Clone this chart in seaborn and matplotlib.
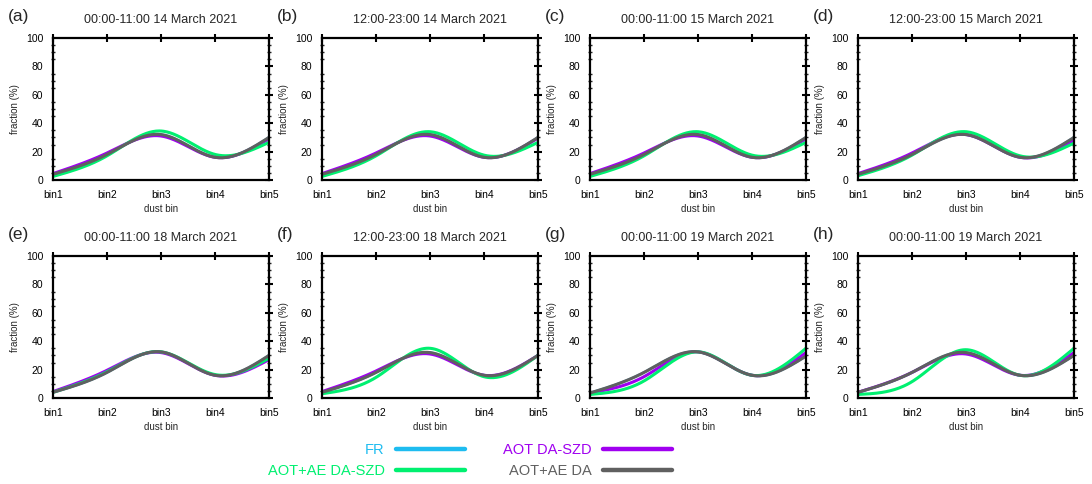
import numpy as np
import pandas as pd
import matplotlib
matplotlib.use("Agg")
import matplotlib.pyplot as plt
import seaborn as sns
from matplotlib.lines import Line2D
from matplotlib.ticker import MultipleLocator

# ---------------- data ----------------
bins = ["bin1", "bin2", "bin3", "bin4", "bin5"]
panel_tags = ["(a)", "(b)", "(c)", "(d)", "(e)", "(f)", "(g)", "(h)"]
titles = [
    "00:00-11:00 14 March 2021", "12:00-23:00 14 March 2021",
    "00:00-11:00 15 March 2021", "12:00-23:00 15 March 2021",
    "00:00-11:00 18 March 2021", "12:00-23:00 18 March 2021",
    "00:00-11:00 19 March 2021", "00:00-11:00 19 March 2021",
]
series_names = ["FR", "AOT DA-SZD", "AOT+AE DA-SZD", "AOT+AE DA"]
colors = {"FR": "#1ebcf0", "AOT DA-SZD": "#a000f0",
          "AOT+AE DA-SZD": "#00f070", "AOT+AE DA": "#606060"}

# fraction (%) at bin1..bin5 for each panel (a)-(h)
fr_vals = [
    [4, 18, 32, 16, 30], [4, 18, 32, 16, 30], [4, 18, 32, 16, 30], [4, 18, 32, 16, 30],
    [4, 18, 32.5, 16, 30], [4, 18, 32, 16, 30], [3.5, 18, 32.5, 16, 29.5], [4, 18, 32, 16, 30],
]
aot_szd_vals = [
    [4.5, 19, 31, 16, 29], [4.5, 19, 31, 16, 29.5], [4.5, 19, 31, 16, 29], [4.5, 19, 32, 16, 28],
    [4.5, 19.5, 32, 16, 27], [4.5, 19, 31, 16, 30], [3.5, 15, 32.5, 16, 32], [4, 18, 31, 16, 32],
]
aotae_szd_vals = [
    [2.5, 17, 34.5, 18, 26.5], [2.5, 17, 34, 17.5, 26.5], [2.5, 17, 34, 17.5, 26.5], [3, 17.5, 34, 17, 26],
    [4, 18.5, 32.5, 16.5, 28], [3, 14.5, 35, 15, 30], [2.5, 12, 32.5, 16, 35], [2.5, 11.5, 34, 16, 35],
]
aotae_da_vals = [
    [4, 18, 32, 16, 30], [4, 18, 32, 16, 30], [4, 18, 32, 16, 30], [4, 18, 32, 16, 30],
    [4, 18, 32.5, 16, 30], [4, 18, 32, 16, 30], [3.5, 18, 32.5, 16, 29.5], [4, 18, 32, 16, 30],
]
all_vals = {"FR": fr_vals, "AOT DA-SZD": aot_szd_vals,
            "AOT+AE DA-SZD": aotae_szd_vals, "AOT+AE DA": aotae_da_vals}
line_widths = {"FR": 1.8, "AOT DA-SZD": 2.2, "AOT+AE DA-SZD": 2.2, "AOT+AE DA": 2.2}


def smooth_curve(y, n=200):
    """Natural cubic spline through the bin values (drawing path only)."""
    y = np.asarray(y, float)
    N = len(y)
    A = np.zeros((N, N))
    r = np.zeros(N)
    A[0, 0] = A[-1, -1] = 1
    for i in range(1, N - 1):
        A[i, i - 1], A[i, i], A[i, i + 1] = 1, 4, 1
        r[i] = 6 * (y[i + 1] - 2 * y[i] + y[i - 1])
    M = np.linalg.solve(A, r)
    xs = np.linspace(0, N - 1, n)
    k = np.minimum(xs.astype(int), N - 2)
    t = xs - k
    ys = (M[k] * (1 - t) ** 3 / 6 + M[k + 1] * t ** 3 / 6
          + (y[k] - M[k] / 6) * (1 - t) + (y[k + 1] - M[k + 1] / 6) * t)
    return xs, ys


# ---------------- figure ----------------
sns.set_theme(style="white")
plt.rcParams["font.family"] = ["Liberation Sans", "DejaVu Sans"]

W, H = 1092, 484
fig = plt.figure(figsize=(W / 100, H / 100), dpi=100)

lefts = [53, 322, 590, 858]
tops = [38, 256]
aw, ah = 216, 142

for p in range(8):
    row, col = divmod(p, 4)
    l, t = lefts[col], tops[row]
    ax = fig.add_axes([l / W, (H - t - ah) / H, aw / W, ah / H])
    for name in series_names:
        xs, ys = smooth_curve(all_vals[name][p])
        df = pd.DataFrame({"x": xs, "y": ys})
        sns.lineplot(data=df, x="x", y="y", color=colors[name],
                     linewidth=line_widths[name], ax=ax, sort=False)
    ax.set_xlim(0, 4)
    ax.set_ylim(0, 100)
    ax.set_xticks(range(5))
    ax.set_xticklabels(bins)
    ax.set_yticks(range(0, 101, 20))
    ax.yaxis.set_minor_locator(MultipleLocator(5))
    ax.tick_params(axis="both", which="major", direction="inout", length=6, width=1.5,
                   top=True, right=True, labelsize=7.5, pad=4, colors="black")
    ax.tick_params(axis="y", which="minor", direction="inout", length=3, width=1.0,
                   left=True, right=True)
    for s in ax.spines.values():
        s.set_linewidth(1.6)
        s.set_color("black")
    ax.set_xlabel("dust bin", fontsize=7, labelpad=3)
    ax.set_ylabel("fraction (%)", fontsize=7, labelpad=4)
    ax.set_title(titles[p], fontsize=9, pad=11)
    ax.text(-45 / aw, 1 + 22 / ah, panel_tags[p], transform=ax.transAxes,
            fontsize=12.5, ha="left", va="center")

handles = [Line2D([], [], color=colors[n], linewidth=3.2) for n in series_names]
order = [0, 2, 1, 3]
leg = fig.legend([handles[i] for i in order], [series_names[i] for i in order],
                 ncol=2, markerfirst=False, frameon=False, fontsize=10.5,
                 handlelength=4.7, handletextpad=0.8, columnspacing=2.6,
                 labelspacing=0.45, loc="center", bbox_to_anchor=(0.43, 0.048),
                 labelcolor=[colors[series_names[i]] for i in order])

fig.savefig("out.png", dpi=100)
